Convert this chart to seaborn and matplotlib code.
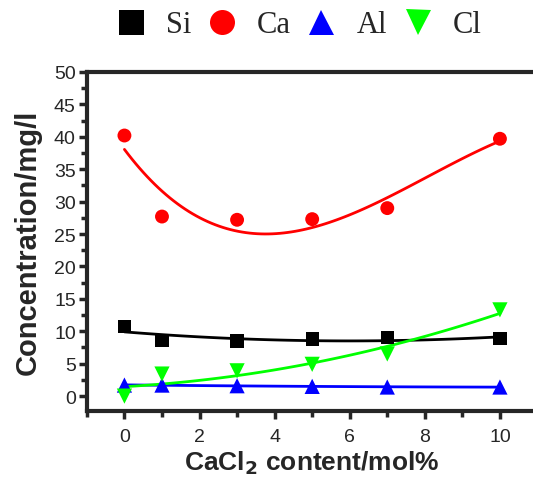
import numpy as np
import pandas as pd
import matplotlib
matplotlib.use('Agg')
import matplotlib.pyplot as plt
from matplotlib.lines import Line2D
import seaborn as sns
from matplotlib.ticker import MultipleLocator

# CaCl2 content (mol%)
cacl2 = [0, 1, 3, 5, 7, 10]

# concentrations (mg/l)
si = [10.7, 8.6, 8.5, 8.8, 9.0, 8.9]
ca = [40.2, 27.7, 27.2, 27.3, 29.0, 39.7]
al = [1.7, 1.7, 1.6, 1.5, 1.4, 1.4]
cl = [0.0, 3.4, 3.9, 4.9, 6.5, 13.3]

names = ['Si', 'Ca', 'Al', 'Cl']
colors = ['black', '#ff0000', '#0000ff', '#00ff00']
markers = ['s', 'o', '^', 'v']
msize = [90, 100, 120, 120]
fit_order = [2, 3, 2, 2]

sns.set_style('ticks')
plt.rcParams['font.family'] = ['Liberation Sans', 'DejaVu Sans']

fig = plt.figure(figsize=(5.33, 4.85), dpi=100)
ax = fig.add_axes([0.163, 0.1505, 0.8454, 0.699])

for name, vals, c, m, sz, o in zip(names, [si, ca, al, cl], colors, markers, msize, fit_order):
    df = pd.DataFrame({'x': cacl2, 'y': vals})
    sns.regplot(data=df, x='x', y='y', order=o, ci=None, scatter=False,
                color=c, line_kws={'lw': 2}, ax=ax)
    sns.scatterplot(data=df, x='x', y='y', marker=m, color=c, s=sz,
                    edgecolor='none', ax=ax, zorder=3, legend=False)

ax.set_xlim(-1, 11)
ax.set_ylim(-2.3, 50)
ax.xaxis.set_major_locator(MultipleLocator(2))
ax.xaxis.set_minor_locator(MultipleLocator(1))
ax.yaxis.set_major_locator(MultipleLocator(5))
ax.yaxis.set_minor_locator(MultipleLocator(2.5))
ax.tick_params(which='major', direction='out', length=6, width=2.5, labelsize=14, pad=2)
ax.tick_params(axis='x', which='major', pad=6)
ax.tick_params(which='minor', direction='out', length=4, width=2.5)
for s in ax.spines.values():
    s.set_linewidth(3)

ax.set_xlabel(r'CaCl$_\mathbf{2}$ content/mol%', fontsize=19, fontweight='bold', labelpad=3)
ax.set_ylabel('Concentration/mg/l', fontsize=21, fontweight='bold', labelpad=9)

handles = [Line2D([], [], ls='none', marker=m, color=c, markersize=18, markeredgewidth=0)
           for m, c in zip(markers, colors)]
fig.legend(handles, names, loc='center', bbox_to_anchor=(0.56, 0.947), ncol=4,
           frameon=False, prop={'family': 'Liberation Serif', 'size': 22},
           handlelength=1.0, handletextpad=0.65, columnspacing=0.5)

fig.savefig('out.png', dpi=100)
